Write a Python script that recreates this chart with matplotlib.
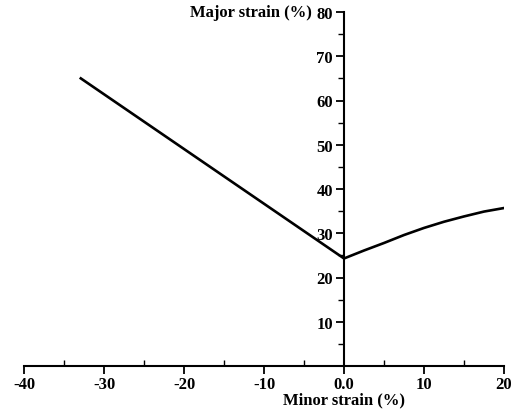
import matplotlib.pyplot as plt
import numpy as np

# forming limit curve (minor strain vs major strain, %)
minor_left = [-32.9, 0.0]
major_left = [65.0, 24.3]
minor_right = [0.0, 2.5, 5.0, 7.5, 10.0, 12.5, 15.0, 17.5, 20.0]
major_right = [24.3, 26.1, 27.8, 29.6, 31.2, 32.6, 33.8, 34.9, 35.7]

x_ticks = [-40, -30, -20, -10, 0, 10, 20]
x_tick_labels = ["-40", "-30", "-20", "-10", "0.0", "10", "20"]
y_ticks = [10, 20, 30, 40, 50, 60, 70, 80]

plt.rcParams['font.family'] = ['Liberation Serif', 'DejaVu Serif']
plt.rcParams['font.weight'] = 'bold'

fig = plt.figure(figsize=(5.29, 4.10), dpi=100)
ax = fig.add_axes([24 / 529, 43 / 410, 480 / 529, 354 / 410])

ax.plot(minor_left + minor_right[1:], major_left + major_right[1:],
        color="black", linewidth=1.9, solid_joinstyle="miter")

ax.set_xlim(-40, 20)
ax.set_ylim(0, 80)

ax.spines["top"].set_visible(False)
ax.spines["right"].set_visible(False)
ax.spines["left"].set_position(("data", 0))
ax.spines["bottom"].set_position(("data", 0))
ax.spines["left"].set_linewidth(1.5)
ax.spines["bottom"].set_linewidth(1.5)

ax.set_xticks(x_ticks)
ax.set_xticklabels(x_tick_labels)
ax.set_xticks(np.arange(-35, 20, 10), minor=True)
ax.set_yticks(y_ticks)
ax.set_yticks(np.arange(5, 80, 10), minor=True)

ax.tick_params(axis="x", which="major", direction="out", length=6, width=1.3,
               labelsize=12, pad=1)
ax.tick_params(axis="x", which="minor", direction="in", length=4, width=1.0)
ax.tick_params(axis="y", which="major", direction="out", length=6, width=1.3,
               labelsize=12, pad=2)
ax.tick_params(axis="y", which="minor", direction="out", length=4, width=1.0)

ax.text(-4.0, 80, "Major strain (%)", ha="right", va="center",
        fontsize=12, fontweight="bold")
ax.text(0, -7.6, "Minor strain (%)", ha="center", va="center",
        fontsize=12, fontweight="bold", clip_on=False)

fig.savefig("out.png", dpi=100)
